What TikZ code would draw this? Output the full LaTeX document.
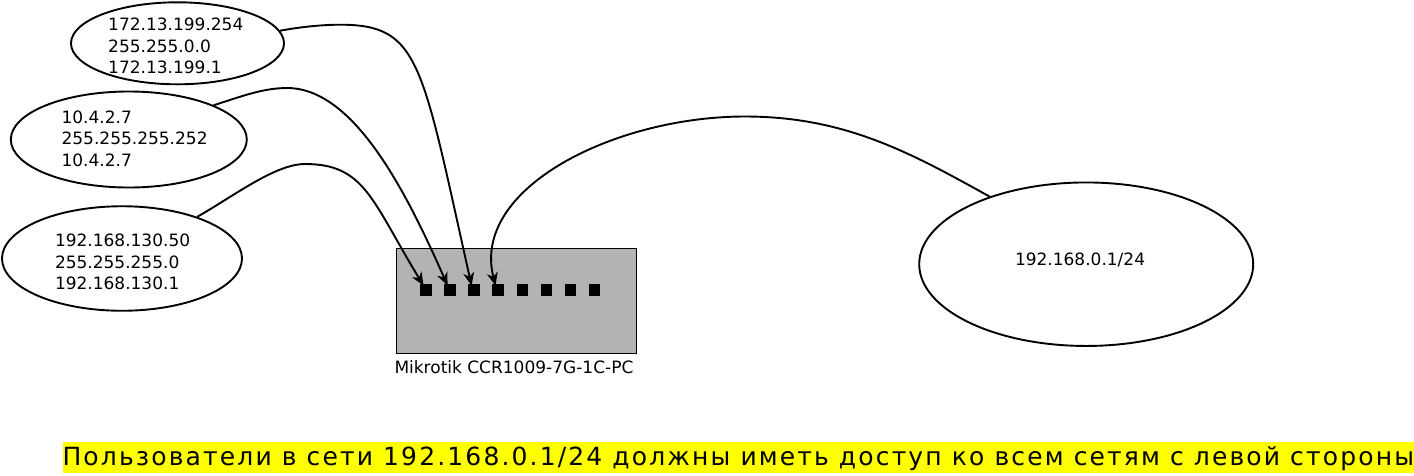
\documentclass[tikz,border=0pt]{standalone}
\usepackage{fontspec}
\setmainfont{DejaVu Sans}
\usetikzlibrary{shapes.geometric,arrows.meta}
\definecolor{boxgray}{HTML}{B3B3B3}
\definecolor{hilite}{HTML}{FFFF00}
\tikzset{
  ell/.style={draw=black, line width=1.9pt, ellipse, inner sep=0pt},
  lbl/.style={font=\fontsize{17}{21.2}\selectfont, align=left, inner sep=0pt, anchor=base west},
  port/.style={fill=black, draw=none, minimum size=11.5pt, inner sep=0pt},
  conn/.style={draw=black, line width=1.9pt, -{Stealth[length=13pt,width=11pt,inset=4pt]}}
}
\begin{document}
\begin{tikzpicture}[x=1pt,y=-1pt]
\useasboundingbox (0,0) rectangle (1414,475);
% ellipses
\node[ell, minimum width=213pt, minimum height=82pt] (e1) at (177.5,43.3) {};
\node[ell, minimum width=236pt, minimum height=96pt] (e2) at (128.8,139.5) {};
\node[ell, minimum width=240pt, minimum height=104.5pt] (e3) at (122,258.5) {};
\node[ell, minimum width=334pt, minimum height=163.5pt] (e4) at (1086.2,264.2) {};
% texts (anchored at the last line's baseline)
\node[lbl] (t1) at (108,73.3) {172.13.199.254\\255.255.0.0\\172.13.199.1};
\node[lbl] (t2) at (61.4,166) {10.4.2.7\\255.255.255.252\\10.4.2.7};
\node[lbl] (t3) at (54.8,289.3) {192.168.130.50\\255.255.255.0\\192.168.130.1};
\node[lbl] (t4) at (1014.8,265.7) {192.168.0.1/24};
% router
\node[draw=black, line width=1.3pt, fill=boxgray, minimum width=240pt, minimum height=105pt, inner sep=0pt] (router) at (516.5,301) {};
\node[lbl] (rlab) at (394.3,373.3) {Mikrotik CCR1009-7G-1C-PC};
\foreach \i/\x in {1/426,2/450,3/474,4/498,5/522.3,6/546.4,7/570.5,8/594.7}
  \node[port] (p\i) at (\x,290) {};
% endpoints
\coordinate (tip1) at ([shift={(3.5,1.5)}]p1.north west);
\coordinate (tip2) at ([shift={(3.5,1.5)}]p2.north west);
\coordinate (tip3) at ([shift={(3.5,1.5)}]p3.north west);
\coordinate (tip4) at ([shift={(3.5,1.5)}]p4.north west);
% connectors
\draw[conn] (e3.29) .. controls (232.6,196.9) and (275,164) .. (305,164)
  .. controls (365,164) and (371.7,200.6) .. (tip1);
\draw[conn] (e2.22) .. controls (238.8,97.4) and (262,88) .. (287,88)
  .. controls (352,88) and (403.7,185.6) .. (tip2);
\draw[conn] (e1.7) .. controls (300,27) and (322,24.7) .. (340,24.7)
  .. controls (420,24.7) and (421.4,61.5) .. (tip3);
\draw[conn] (e4.145) .. controls (911,153) and (845,116.5) .. (745,116.5)
  .. controls (615,116.5) and (470.5,188) .. (tip4);
% bottom note
\node[fill=hilite, inner sep=0pt, anchor=base west, text height=23.5pt, text depth=7pt,
  font=\fontsize{25}{30}\selectfont\addfontfeatures{LetterSpace=8.6}] (note) at (62.3,465.7)
  {Пользователи в сети 192.168.0.1/24 должны иметь доступ ко всем сетям с левой стороны};
\end{tikzpicture}
\end{document}
